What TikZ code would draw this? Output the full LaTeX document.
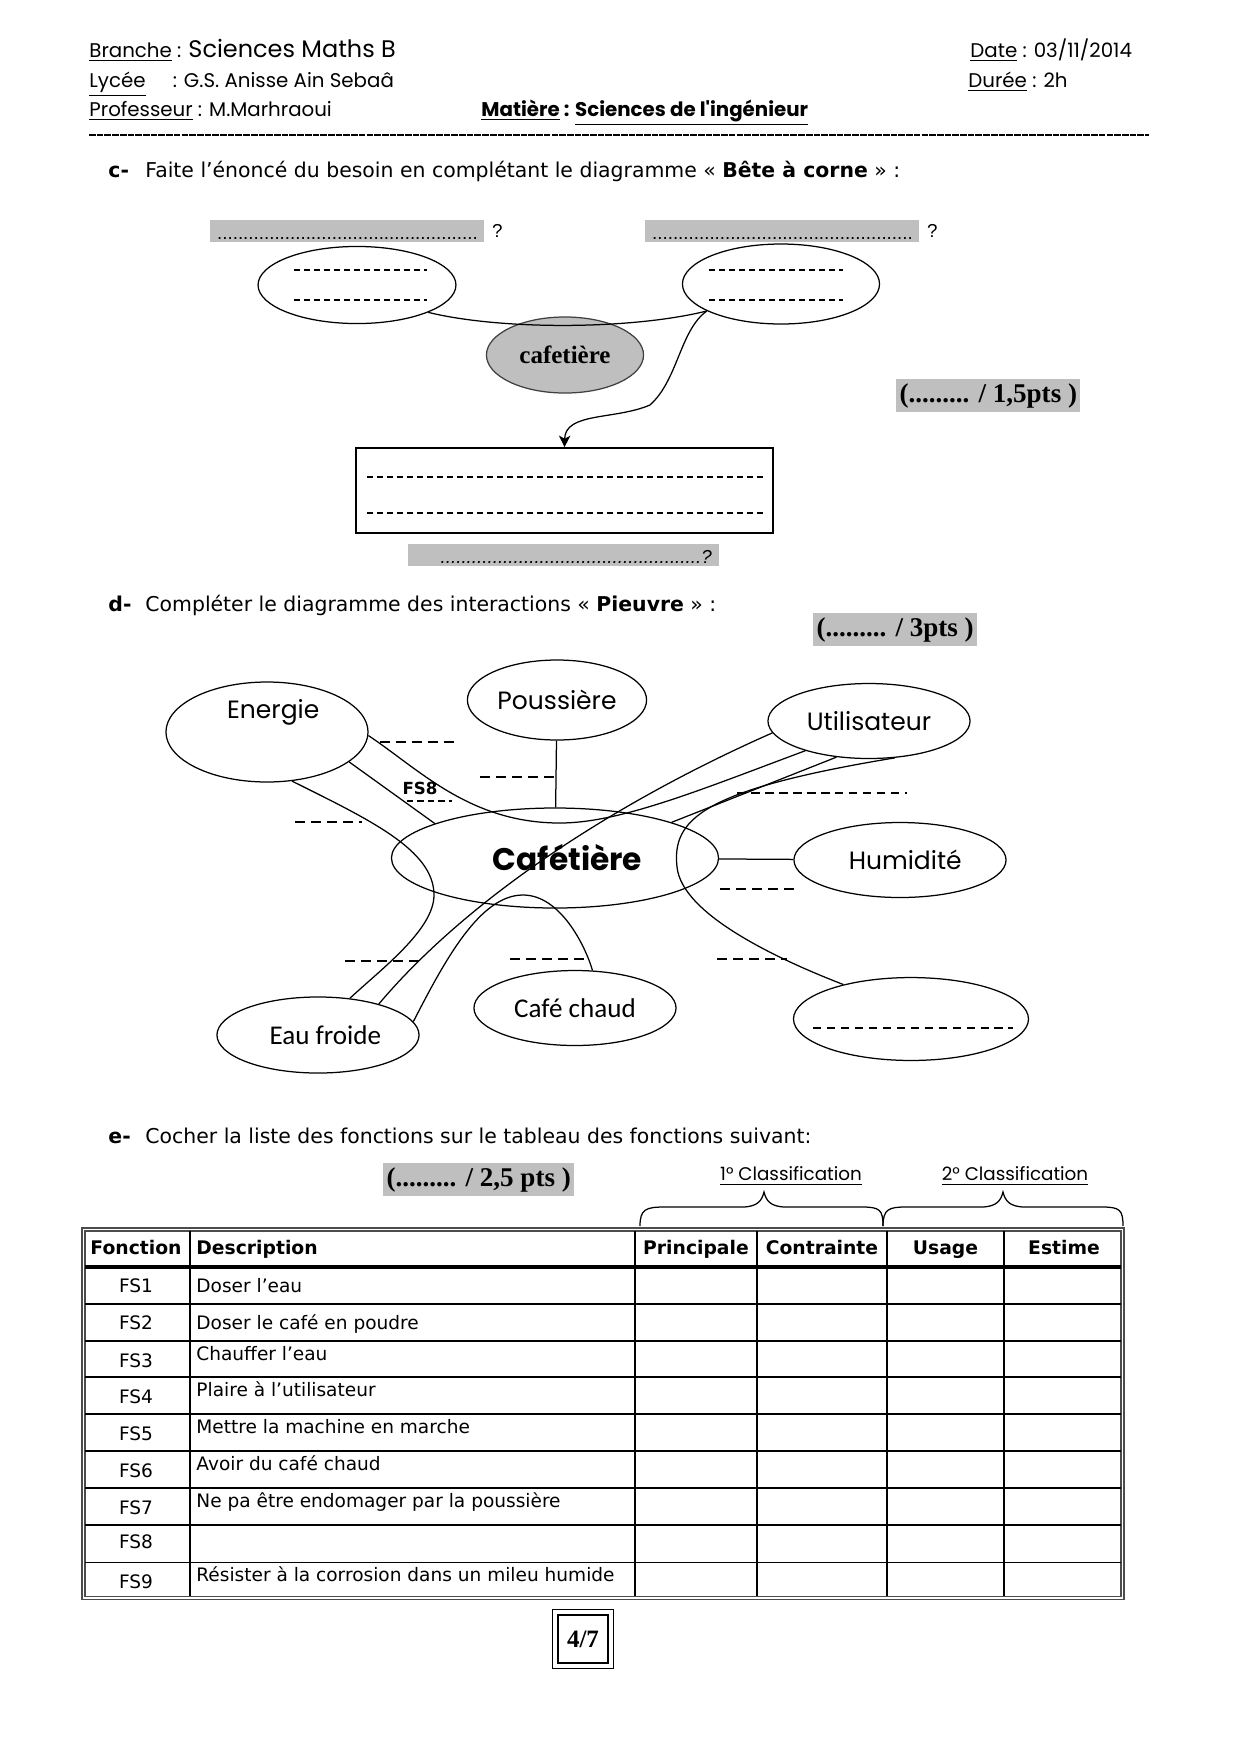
\documentclass[tikz,border=0pt]{standalone}
\usepackage{fontspec}
\usetikzlibrary{shapes.geometric, arrows.meta, positioning}
\setmainfont{Liberation Serif}
\newfontfamily\comic{Poppins}
\newfontfamily\tahoma{DejaVu Sans}
\newfontfamily\calibri{Carlito}
\newfontfamily\arial{Liberation Sans}
\newcommand{\pointilles}[1]{\foreach \k in {1,...,#1}{.}}

\begin{document}
\begin{tikzpicture}[x=0.48pt, y=-0.48pt,
      bulle/.style={draw, ellipse, line width=0.6pt, inner sep=0pt},
      comicb/.style={bulle, font=\comic\fontsize{12}{14}\selectfont},
      calib/.style={bulle, font=\calibri\fontsize{13}{15}\selectfont},
      gris/.style={fill=black!25, inner sep=1pt, text height=8pt, text depth=0.5pt,
                   font=\arial\fontsize{9}{10}\selectfont},
      note/.style={fill=black!25, inner xsep=1.5pt, inner ysep=2pt,
                   font=\bfseries\fontsize{13}{14}\selectfont},
      lien/.style={line width=0.6pt},
      tiret/.style={line width=0.7pt, dash pattern=on 4.8pt off 2.9pt},
      trait/.style={line width=0.6pt, dash pattern=on 3pt off 1.8pt},
      entete/.style={anchor=base west, inner xsep=0pt, font=\comic\fontsize{9.5}{11}\selectfont},
      titre/.style={anchor=base west, inner xsep=0pt, font=\tahoma\fontsize{9.8}{11}\selectfont},
      lettre/.style={titre, font=\tahoma\bfseries\fontsize{9.8}{11}\selectfont},
      cel/.style={anchor=base, font=\tahoma\fontsize{8.9}{10}\selectfont},
      celgras/.style={cel, font=\tahoma\bfseries\fontsize{9}{10}\selectfont},
      desc/.style={anchor=base west, inner xsep=0pt, font=\tahoma\fontsize{8.9}{10}\selectfont}
    ]
    \useasboundingbox (0,0) rectangle (1240,1754);

    \node[entete] (branche) at (89,57) {\underline{Branche} : {\fontsize{11.5}{14}\selectfont Sciences Maths B}};
    \node[entete] (lycee)   at (89,87) {\underline{Lycée}\hspace{13pt}: G.S. Anisse Ain Sebaâ};
    \node[entete] (prof)    at (89,116) {\underline{Professeur} : M.Marhraoui};
    \node[entete, font=\comic\bfseries\fontsize{9.5}{11}\selectfont] (matiere) at (481,116)
         {\underline{Matière} : \underline{Sciences de l'ingénieur}};
    \node[entete] (date)  at (970,57) {\underline{Date} : 03/11/2014};
    \node[entete] (duree) at (968,87) {\underline{Durée} : 2h};
    \draw[line width=0.7pt, dash pattern=on 3.2pt off 0.5pt] (89,135) -- (1149,135);

    \node[lettre] (lettreC) at (108,177) {c-};
    \node[titre]  (enonceC) at (145,177) {Faite l’énoncé du besoin en complétant le diagramme « \textbf{Bête à corne} » :};

    \node[gris, minimum width=131.5pt, anchor=north west] (qui)  at (210,220) {\pointilles{50}};
    \node[anchor=west, font=\arial\fontsize{9}{10}\selectfont] (quest1) at (qui.east) {?};
    \node[gris, minimum width=131.5pt, anchor=north west] (quoi) at (645,220) {\pointilles{50}};
    \node[anchor=west, font=\arial\fontsize{9}{10}\selectfont] (quest2) at (quoi.east) {?};

    \node[bulle, minimum width=95pt, minimum height=37pt]     (agit) at (357,285) {};
    \node[bulle, minimum width=94.6pt, minimum height=38.4pt] (sur)  at (781,284) {};
    \node[bulle, fill=black!25, draw=black!75, minimum width=75.4pt, minimum height=36.5pt,
          font=\bfseries\fontsize{12}{14}\selectfont] (produit) at (565,355) {cafetière};
    \node[draw, line width=0.9pt, minimum width=200pt, minimum height=40.8pt] (besoin) at (564.5,490.5) {};

    \draw[trait] (294,270) -- (427,270);
    \draw[trait] (294,300) -- (427,300);
    \draw[trait] (709,270) -- (843,270);
    \draw[trait] (709,300) -- (843,300);
    \draw[trait] (367,477) -- (765,477);
    \draw[trait] (367,513) -- (765,513);

    \draw[lien] (agit.-21) .. controls (500,330) and (630,330) .. (sur.-160);
    \draw[lien, -{Stealth[length=5.5pt, width=5.5pt, inset=1.5pt]}] (sur.-160)
         .. controls (680,330) and (678,380) .. (650,405)
         .. controls (615,420) and (565,412) .. (besoin.north);

    \node[gris, minimum width=149pt, anchor=north west, font=\arial\itshape\fontsize{9}{10}\selectfont] (but)
         at (408,544) {\hspace*{12pt}\pointilles{50}?};
    \node[note, anchor=north west, minimum width=86.4pt, minimum height=13.9pt] (bareme1) at (896,379) {(......... / 1,5pts )};

    \node[lettre] (lettreD) at (108,611) {d-};
    \node[titre]  (enonceD) at (145,611) {Compléter le diagramme des interactions « \textbf{Pieuvre} » :};
    \node[note, anchor=north west, minimum width=76.8pt, minimum height=14.4pt] (bareme2) at (813,613) {(......... / 3pts )};

    \node[comicb, minimum width=97pt, minimum height=48pt, text height=9pt, text depth=22pt] (ener) at (267,732) {\hspace*{6pt}Energie};
    \node[comicb, minimum width=86pt, minimum height=38.4pt]  (pous)  at (557,700) {Poussière};
    \node[comicb, minimum width=97pt, minimum height=36pt]    (util)  at (869,721) {Utilisateur};
    \node[comicb, minimum width=101.8pt, minimum height=36pt] (humi)  at (900,860) {\hspace*{5pt}Humidité};
    \node[comicb, minimum width=157pt, minimum height=48pt,
          font=\comic\bfseries\fontsize{15}{17}\selectfont] (cafe) at (555,858) {\hspace*{12pt}Cafétière};
    \node[calib, minimum width=97pt, minimum height=36.5pt]   (eau)   at (318,1035) {\hspace*{7pt}Eau froide};
    \node[calib, minimum width=97pt, minimum height=36pt]     (chaud) at (575,1008) {Café chaud};
    \node[bulle, minimum width=112.8pt, minimum height=39.8pt] (autre) at (911,1019) {};
    \draw[tiret, dash pattern=on 4pt off 2.7pt] (813,1028) -- (1013,1028);

    \draw[lien] (pous) -- (cafe);
    \draw[lien] (cafe) -- (humi);
    \draw[lien] (ener.-20) -- (cafe.164);
    \draw[lien] (ener.-2) .. controls (420,770) and (470,823) .. (560,823)
                .. controls (620,823) and (700,790) .. (util.-155);
    \draw[lien] (util.187) .. controls (618,801) and (469,897) .. (eau.27);
    \draw[lien] (ener.-63) .. controls (370,820) and (434,850) .. (434,895)
                .. controls (434,930) and (380,970) .. (eau.49);
    \draw[lien] (util.-132) -- (cafe.17);
    \draw[lien] (util.-55) .. controls (700,790) and (672,820) .. (677,867)
                .. controls (682,915) and (780,960) .. (autre.153);
    \draw[lien] (eau.8) .. controls (445,960) and (480,895) .. (523,895)
                .. controls (560,895) and (585,945) .. (chaud.65);

    \draw[tiret] (380,742) -- (458,742);
    \draw[tiret] (480,777) -- (557,777);
    \draw[tiret] (295,822) -- (362,822);
    \node[font=\tahoma\bfseries\fontsize{8}{9}\selectfont, inner sep=0pt] (fs8) at (420,788) {FS8};
    \draw[tiret, dash pattern=on 3pt off 2pt] (407,801) -- (452,801);
    \draw[tiret, dash pattern=on 4.2pt off 2.5pt] (737,793) -- (907,793);
    \draw[tiret] (720,889) -- (797,889);
    \draw[tiret] (345,961) -- (420,961);
    \draw[tiret] (510,959) -- (587,959);
    \draw[tiret] (717,959) -- (787,959);

    \node[lettre] (lettreE) at (108,1143) {e-};
    \node[titre]  (enonceE) at (145,1143) {Cocher la liste des fonctions sur le tableau des fonctions suivant:};
    \node[note, anchor=north west, minimum width=89.8pt, minimum height=13.9pt] (bareme3) at (383,1163) {(......... / 2,5 pts )};
    \node[font=\comic\fontsize{8.8}{10}\selectfont] (classe1) at (791,1176) {\underline{1° Classification}};
    \node[font=\comic\fontsize{8.8}{10}\selectfont] (classe2) at (1015,1176) {\underline{2° Classification}};
    \draw[lien] (640,1226) .. controls (640,1209) and (646,1207) .. (665,1207) -- (742,1207)
                .. controls (758,1207) and (762,1200) .. (764,1192)
                .. controls (766,1200) and (770,1207) .. (786,1207) -- (862,1207)
                .. controls (880,1207) and (883,1210) .. (883,1226);
    \draw[lien] (883,1226) .. controls (883,1209) and (889,1207) .. (906,1207) -- (981,1207)
                .. controls (997,1207) and (1001,1200) .. (1003,1192)
                .. controls (1005,1200) and (1009,1207) .. (1025,1207) -- (1102,1207)
                .. controls (1120,1207) and (1123,1210) .. (1123,1226);

    \draw[line width=0.5pt, black!70] (82,1228) rectangle (1124,1599);
    \draw[line width=0.5pt, black!70] (85,1231) rectangle (1121,1596);
    \draw[line width=0.5pt] (85,1304) -- (1121,1304) (85,1341) -- (1121,1341) (85,1377) -- (1121,1377)
         (85,1414) -- (1121,1414) (85,1451) -- (1121,1451) (85,1488) -- (1121,1488)
         (85,1525) -- (1121,1525) (85,1562) -- (1121,1562);
    \draw[line width=0.5pt] (757,1231) -- (757,1596) (1004,1231) -- (1004,1596);
    \draw[line width=1.3pt] (190,1231) -- (190,1596) (635,1231) -- (635,1596) (887,1231) -- (887,1596);
    \draw[line width=1.8pt] (85,1267) -- (1121,1267);

    \node[celgras] (hfonc)  at (136,1254)  {Fonction};
    \node[celgras, anchor=base west, inner xsep=0pt] (hdesc) at (196,1254) {Description};
    \node[celgras] (hprin)  at (696,1254)  {Principale};
    \node[celgras] (hcont)  at (822,1254)  {Contrainte};
    \node[celgras] (husage) at (945.5,1254) {Usage};
    \node[celgras] (hest)   at (1064,1254) {Estime};

    \node[cel] (fs1) at (136,1292) {FS1};
    \node[cel] (fs2) at (136,1329) {FS2};
    \node[cel] (fs3) at (136,1367) {FS3};
    \node[cel] (fs4) at (136,1403) {FS4};
    \node[cel] (fs5) at (136,1440) {FS5};
    \node[cel] (fs6) at (136,1477) {FS6};
    \node[cel] (fs7) at (136,1514) {FS7};
    \node[cel] (fs8t) at (136,1548) {FS8};
    \node[cel] (fs9) at (136,1588) {FS9};
    \node[desc] (d1) at (196,1292) {Doser l’eau};
    \node[desc] (d2) at (196,1329) {Doser le café en poudre};
    \node[desc] (d3) at (196,1360) {Chauffer l’eau};
    \node[desc] (d4) at (196,1396) {Plaire à l’utilisateur};
    \node[desc] (d5) at (196,1433) {Mettre la machine en marche};
    \node[desc] (d6) at (196,1470) {Avoir du café chaud};
    \node[desc] (d7) at (196,1507) {Ne pa être endomager par la poussière};
    \node[desc] (d9) at (196,1581) {Résister à la corrosion dans un mileu humide};

    \node[draw, line width=1.2pt, minimum width=24pt, minimum height=23pt,
          font=\bfseries\fontsize{12}{14}\selectfont] (page) at (583,1639) {4/7};
    \draw[line width=0.5pt] ([shift={(-4,-4)}]page.north west) rectangle ([shift={(4,4)}]page.south east);
  \end{tikzpicture}
\end{document}
